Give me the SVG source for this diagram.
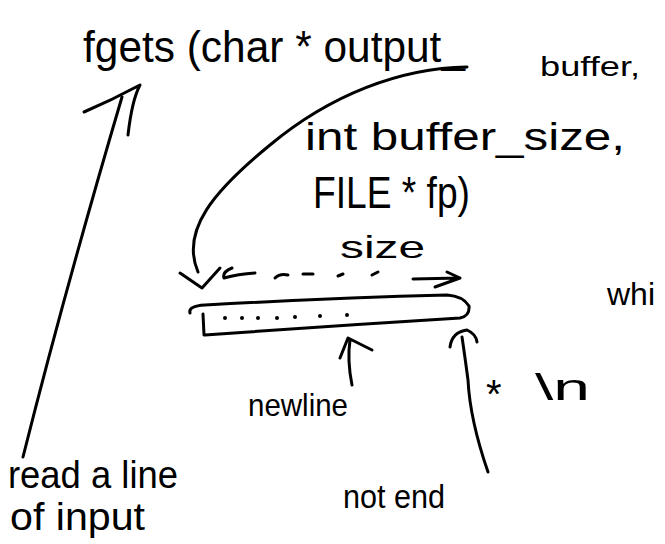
<svg xmlns="http://www.w3.org/2000/svg" width="665" height="544" viewBox="0 0 665 544">
<style>
.t{font-family:"Liberation Sans","DejaVu Sans",sans-serif;fill:#000}
.s{fill:none;stroke:#000;stroke-width:3;stroke-linecap:round;stroke-linejoin:round}
</style>
<rect width="665" height="544" fill="#fff"/>
<g id="signature">
<text class="t" x="83" y="62" font-size="44" textLength="382" lengthAdjust="spacingAndGlyphs">fgets (char * output_</text>
<text class="t" x="540" y="76" font-size="28" textLength="100" lengthAdjust="spacingAndGlyphs">buffer,</text>
<text class="t" x="305" y="150" font-size="38" textLength="320" lengthAdjust="spacingAndGlyphs">int buffer_size,</text>
<text class="t" x="313" y="208" font-size="44" textLength="157" lengthAdjust="spacingAndGlyphs">FILE * fp)</text>
</g>
<g id="buffer">
<path class="s" d="M190,313 Q188,306 205,305 Q330,298 447,295 Q463,296 469,306 Q470,316 460,318 Q330,326 205,335 M203,314 L204,335"/>
<g fill="#000">
<circle cx="225" cy="318" r="2"/><circle cx="242" cy="318" r="2"/><circle cx="258" cy="318" r="2"/><circle cx="277" cy="318" r="2"/><circle cx="295" cy="317" r="2"/><circle cx="320" cy="316" r="2"/><circle cx="347" cy="315" r="2"/>
</g>
</g>
<g id="size-label"><text class="t" x="340" y="258" font-size="32" textLength="85" lengthAdjust="spacingAndGlyphs">size</text></g>
<g id="whi"><text class="t" x="607" y="305" font-size="32">whi</text></g>
<g id="newline"><text class="t" x="248" y="416" font-size="32" textLength="100" lengthAdjust="spacingAndGlyphs">newline</text></g>
<g id="nl-char"><text class="t" x="486" y="408" font-size="40">*</text><text class="t" x="535" y="400" font-size="36" textLength="55" lengthAdjust="spacingAndGlyphs">\n</text></g>
<g id="read-line">
<text class="t" x="8" y="488" font-size="38" textLength="170" lengthAdjust="spacingAndGlyphs">read a line</text>
<text class="t" x="10" y="530" font-size="38" textLength="135" lengthAdjust="spacingAndGlyphs">of input</text>
</g>
<g id="not-end"><text class="t" x="343" y="508" font-size="34" textLength="102" lengthAdjust="spacingAndGlyphs">not end</text></g>
<g id="connectors">
<path class="s" d="M23,457 Q65,290 122,97"/>
<path class="s" d="M84,112 Q112,100 140,85 Q132,100 128,135"/>
<path class="s" d="M467,67 C400,68 330,95 270,145 C215,190 180,230 198,272"/>
<path class="s" d="M180,273 L202,288 L220,268"/>
<path class="s" d="M232,268 Q222,272 224,278 Q238,274 255,273"/>
<path class="s" d="M275,278 Q280,273 288,275 M303,274 L313,274 M338,276 L343,274 M372,275 L378,272"/>
<path class="s" d="M413,279 L460,278 M447,272 L460,278 L435,287"/>
<path class="s" d="M352,385 Q347,360 350,340 M340,358 L348,338 L372,350"/>
<path class="s" d="M488,472 Q470,420 468,380 Q464,350 462,337 M450,347 Q452,332 467,330 Q476,334 477,342"/>
</g>
</svg>
